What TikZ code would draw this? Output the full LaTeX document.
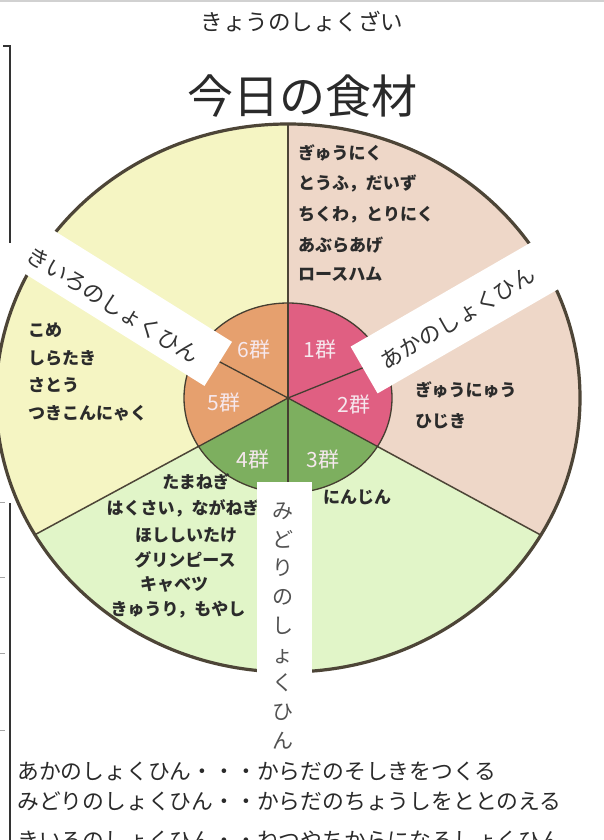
\documentclass[tikz,border=0pt]{standalone}
\usepackage{fontspec}
\setmainfont{Noto Sans CJK JP}
\newfontfamily\handfont{Noto Sans CJK JP}
\definecolor{outP}{HTML}{EED7C8}
\definecolor{outY}{HTML}{F5F5C3}
\definecolor{outG}{HTML}{E1F5C8}
\definecolor{inP}{HTML}{E05F82}
\definecolor{inO}{HTML}{E6A06E}
\definecolor{inG}{HTML}{7DAF5F}
\definecolor{lineC}{HTML}{4D4537}
\definecolor{handC}{HTML}{2B2B2B}
\definecolor{bandC}{HTML}{333333}
\definecolor{textC}{HTML}{2A2A2A}
\definecolor{grpT}{HTML}{F6E8EE}
\begin{document}
\begin{tikzpicture}[x=1pt,y=-1pt,
  outline/.style={draw=lineC, line width=3.2pt},
  radial/.style={draw=lineC, line width=1.5pt},
  innerline/.style={draw=lineC!90!black, line width=1.3pt},
  hand/.style={font=\handfont\bfseries\fontsize{17}{20}\selectfont, text=handC, inner sep=0pt},
  grp/.style={font=\fontsize{21}{24}\selectfont, text=grpT, inner sep=0pt},
  bandtext/.style={font=\fontsize{22}{24}\selectfont, text=bandC, inner sep=0pt},
  legend/.style={font=\fontsize{21.8}{24}\selectfont, text=textC, anchor=west, inner sep=0pt}]

\useasboundingbox (0,0) rectangle (604,840);
\clip (0,0) rectangle (604,840);
\fill[white] (0,0) rectangle (604,840);
\draw[black!18, line width=2pt] (0,1) -- (604,1);

% ---- outer ring sectors
\coordinate (C) at (288,398);
\coordinate (Up) at (288,100);
\coordinate (RL) at (620,578);
\coordinate (LL) at (-10,559);
\begin{scope}
  \clip (C) ellipse [x radius=292, y radius=274];
  \fill[outY] (-10,100) rectangle (620,700);
  \fill[outP] (C) -- (Up) -- (620,100) -- (RL) -- cycle;
  \fill[outG] (C) -- (RL) -- (620,700) -- (-10,700) -- (LL) -- cycle;
  \draw[radial] (C) -- (Up);
  \draw[radial] (C) -- (RL);
  \draw[radial] (C) -- (LL);
\end{scope}

% ---- inner circle sectors
\coordinate (iUp) at (288,280);
\coordinate (iDn) at (288,520);
\coordinate (iR) at (420,469.5);
\coordinate (iL) at (156,469.5);
\coordinate (i12) at (427,342);
\coordinate (i56) at (84,290);
\begin{scope}
  \clip (C) ellipse [x radius=104, y radius=95];
  \fill[inO] (170,290) rectangle (410,510);
  \fill[inP] (C) -- (iUp) -- (420,280) -- (iR) -- cycle;
  \fill[inG] (C) -- (iR) -- (420,520) -- (150,520) -- (iL) -- cycle;
  \draw[innerline] (C) -- (iUp);
  \draw[innerline] (C) -- (iDn);
  \draw[innerline] (C) -- (iR);
  \draw[innerline] (C) -- (iL);
  \draw[innerline] (C) -- (i12);
  \draw[innerline] (C) -- (i56);
\end{scope}
\draw[innerline] (C) ellipse [x radius=104, y radius=95];
\draw[outline] (C) ellipse [x radius=292, y radius=274];

% ---- group labels
\node[grp] (g1) at (320,350) {1群};
\node[grp] (g2) at (354,405) {2群};
\node[grp] (g3) at (323,460) {3群};
\node[grp] (g4) at (253,460) {4群};
\node[grp] (g5) at (224,403) {5群};
\node[grp] (g6) at (254,350) {6群};

% ---- foods: red
\node[hand, anchor=west] (r1) at (298,153) {ぎゅうにく};
\node[hand, anchor=west] (r2) at (298,183) {とうふ，だいず};
\node[hand, anchor=west] (r3) at (298,215) {ちくわ，とりにく};
\node[hand, anchor=west] (r4) at (298,245) {あぶらあげ};
\node[hand, anchor=west] (r5) at (298,274) {ロースハム};
\node[hand, anchor=west] (r6) at (415,390) {ぎゅうにゅう};
\node[hand, anchor=west] (r7) at (415,421) {ひじき};
% ---- foods: yellow
\node[hand, anchor=west] (y1) at (28,330) {こめ};
\node[hand, anchor=west] (y2) at (28,358) {しらたき};
\node[hand, anchor=west] (y3) at (28,385) {さとう};
\node[hand, anchor=west] (y4) at (28,413) {つきこんにゃく};
% ---- foods: green
\node[hand] (v1) at (196,482) {たまねぎ};
\node[hand] (v2) at (183,508) {はくさい，ながねぎ};
\node[hand] (v3) at (186,535) {ほししいたけ};
\node[hand] (v4) at (185,560) {グリンピース};
\node[hand] (v5) at (174,584) {キャベツ};
\node[hand] (v6) at (178,610) {きゅうり，もやし};
\node[hand] (v7) at (357,497) {にんじん};

% ---- white label bands (drawn as shapes)
\fill[white, rotate around={30:(468,310)}] (348,283) rectangle (588,337);
\node[bandtext, rotate=31] (tR) at (458,318) {あかのしょくひん};
\fill[white, rotate around={-32:(108,295)}] (-22,269) rectangle (238,321);
\node[bandtext, rotate=-32] (tY) at (113,305) {きいろのしょくひん};
\fill[white] (257,482) rectangle (312,752);
\node[font=\fontsize{21}{28.75}\selectfont, text=bandC!85, align=center, inner sep=0pt] (tG) at (283,626)
  {み\\ど\\り\\の\\し\\ょ\\く\\ひ\\ん};

% ---- left bracket
\draw[black!80, line width=2.5pt] (3,46) -- (10,46) -- (10,243);
\draw[black!80, line width=2.5pt] (10,503) -- (10,840);
\foreach \yy in {502,577,653,730} \draw[black!35, line width=0.6pt] (0,\yy) -- (5,\yy);

% ---- titles
\node[font=\fontsize{22.5}{24}\selectfont, text=textC] (sub) at (302,22) {きょうのしょくざい};
\node[font=\fontsize{46}{50}\selectfont, text=textC] (title) at (302,96) {今日の食材};

% ---- legend
\node[legend] (l1) at (17,771) {あかのしょくひん・・・からだのそしきをつくる};
\node[legend] (l2) at (17,801) {みどりのしょくひん・・からだのちょうしをととのえる};
\node[legend] (l3) at (17,840) {きいろのしょくひん・・ねつやちからになるしょくひん};
\end{tikzpicture}
\end{document}
